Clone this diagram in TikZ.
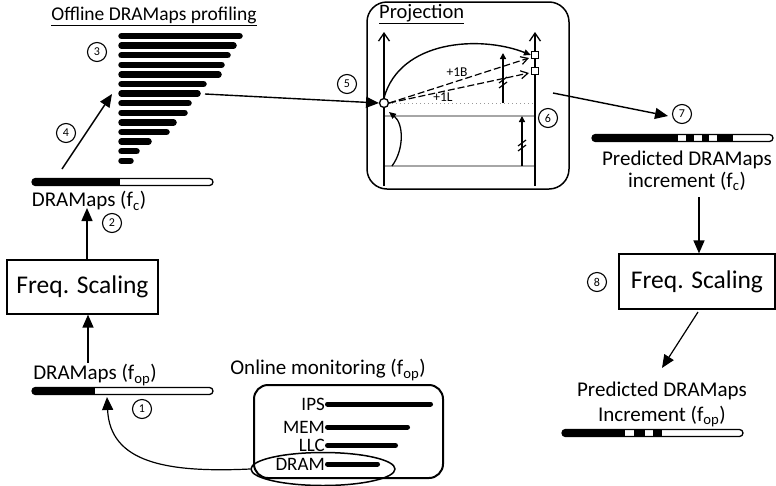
\documentclass[tikz,border=0pt]{standalone}
\usepackage{fontspec}
\setmainfont{Carlito}
\usetikzlibrary{arrows.meta,shapes.geometric}

\begin{document}
\begin{tikzpicture}[x=1pt,y=-1pt,
  lbl/.style={inner sep=0pt, align=center, font=\fontsize{21}{22}\selectfont},
  ttl/.style={inner sep=0pt, font=\fontsize{19.5}{22}\selectfont},
  mon/.style={inner sep=0pt, anchor=east, font=\fontsize{19}{20}\selectfont},
  num/.style={circle, draw, line width=1.1pt, minimum size=19pt, inner sep=0pt, font=\fontsize{12}{12}\selectfont},
  fsbox/.style={rectangle, draw, line width=1.2pt, inner sep=0pt, font=\fontsize{25.5}{26}\selectfont},
  arr/.style={line width=1.4pt, -{Triangle[length=13pt,width=11pt]}},
  profbar/.style={line width=6.5pt, line cap=round},
  monbar/.style={line width=5pt, line cap=round},
  barline/.style={line width=1.3pt, rounded corners=3.5pt},
  axis/.style={line width=1.4pt, -{Straight Barb[length=8pt,width=11pt,line width=1.3pt]}},
  proj/.style={line width=1.2pt, dash pattern=on 7pt off 3pt, -{Straight Barb[length=7pt,width=8pt]}},
  smallarr/.style={line width=1.4pt, -{Triangle[length=6pt,width=6pt]}},
  grayline/.style={line width=1.8pt, gray!70},
  brk/.style={line width=1.2pt}
]
\useasboundingbox (0,0) rectangle (776,485);

% ---------------- offline profiling ----------------
\node[ttl] (offt) at (154,16) {\underline{Offline DRAMaps profiling}};
\node[num] (n3) at (97,52) {3};
\foreach \r [count=\i from 0] in {243,237,231,225,222,207,201,192,188,177,170,152,140,134}
  \draw[profbar] (121.5,{36+9.6*\i}) -- ({\r-3.5},{36+9.6*\i});
\coordinate (prow) at (205,94);

% DRAMaps (f_c) bar
\begin{scope}
  \clip[rounded corners=3.5pt] (32,178.5) rectangle (213,185.5);
  \fill (32,178.5) rectangle (120,185.5);
\end{scope}
\draw[barline] (32,178.5) rectangle (213,185.5);
\coordinate (fcbar) at (62,169);
\coordinate (proftip) at (112,94);
\node[num] (n4) at (66,133) {4};
\draw[arr] (fcbar) -- (proftip);

\node[lbl] (lfc) at (89,201) {DRAMaps (f\textsubscript{c})};
\node[num] (n2) at (112,223) {2};

% left frequency scaling
\node[fsbox, minimum width=151pt, minimum height=54pt] (fs1) at (82.5,287) {Freq. Scaling};
\coordinate (lfcb) at (87,208);
\draw[arr] (fs1.north -| lfcb) -- (lfcb);

% DRAMaps (f_op)
\node[lbl] (lop) at (95,375) {DRAMaps (f\textsubscript{op})};
\coordinate (lopt) at (88,363);
\draw[arr] (lopt) -- (lopt |- fs1.south);
\begin{scope}
  \clip[rounded corners=3.5pt] (32,387.5) rectangle (213,394.5);
  \fill (32,387.5) rectangle (95,394.5);
\end{scope}
\draw[barline] (32,387.5) rectangle (213,394.5);
\coordinate (opbar) at (107,397);
\node[num] (n1) at (142,409) {1};

% ---------------- online monitoring ----------------
\node[lbl] (onl) at (328,370) {Online monitoring (f\textsubscript{op})};
\draw[line width=2pt, rounded corners=14pt] (254,385) rectangle (443,478);
\node[mon] (ips) at (325,404) {IPS};
\node[mon] (mem) at (325,427) {MEM};
\node[mon] (llc) at (325,445.5) {LLC};
\node[mon] (dram) at (325,464) {DRAM};
\draw[monbar] (ips.east) ++(2.5,0) -- (430.5,404);
\draw[monbar] (mem.east) ++(2.5,0) -- (407.5,427);
\draw[monbar] (llc.east) ++(2.5,0) -- (395.5,445.5);
\draw[monbar] (dram.east) ++(2.5,0) -- (377.5,464);
\node[ellipse, draw, line width=1.5pt, minimum width=144pt, minimum height=33pt, inner sep=0pt] (dsel) at (323,469) {};
\draw[line width=1.2pt, -{Triangle[length=13pt,width=11pt]}]
  (dsel.west) .. controls (165,473) and (110,462) .. (opbar);

% ---------------- projection ----------------
\draw[line width=1.5pt, rounded corners=20pt] (367,2) rectangle (569,189);
\node[inner sep=0pt, anchor=west, font=\fontsize{20.5}{22}\selectfont] (projt) at (379,14) {\underline{Projection}};

\coordinate (lb) at (384,186);
\coordinate (lt) at (384,32);
\coordinate (rb) at (535,186);
\coordinate (rt) at (535,32);

\draw[grayline] (384,116) -- (535,116);
\draw[grayline] (384,166) -- (535,166);
\draw[line width=1pt, gray!80, dash pattern=on 1pt off 3pt] (388,103) -- (535,103);

\draw[axis] (lb) -- (lt);
\draw[axis] (rb) -- (rt);

\node[circle, draw, fill=white, line width=1.3pt, minimum size=9pt, inner sep=0pt] (pt) at (384,103) {};
\node[rectangle, draw, fill=white, line width=1.2pt, minimum size=7pt, inner sep=0pt] (sqa) at (535,55) {};
\node[rectangle, draw, fill=white, line width=1.2pt, minimum size=7pt, inner sep=0pt] (sqb) at (535,71) {};

% jump to the upper value
\draw[line width=1.4pt, -{Triangle[length=7pt,width=6pt]}]
  (pt.north) .. controls (400,40) and (480,35) .. (sqa.west);
% +1B and +1L increments
\draw[proj] (pt.east) -- (529,58);
\draw[proj] (pt.east) -- (529,73);
\node[inner sep=0pt, font=\fontsize{13.5}{14}\selectfont] (pb) at (457,72) {+1B};
\node[inner sep=0pt, font=\fontsize{13.5}{14}\selectfont] (pl) at (443,97) {+1L};

% rise from the lower level
\coordinate (cvs) at (392,166);
\coordinate (cve) at (389,112);
\draw[line width=1.3pt, -{Triangle[length=7pt,width=6pt]}]
  (cvs) .. controls (404,150) and (404,124) .. (cve);

% step arrows with break marks
\coordinate (s1b) at (503,103);
\coordinate (s1t) at (503,53);
\draw[smallarr] (s1b) -- (s1t);
\draw[brk] (499,83) -- (507,77);
\draw[brk] (499,88) -- (507,82);
\coordinate (s2b) at (522,166);
\coordinate (s2t) at (522,116);
\draw[smallarr] (s2b) -- (s2t);
\draw[brk] (518,146) -- (526,140);
\draw[brk] (518,151) -- (526,145);

\node[num] (n6) at (548,118) {6};
\node[num] (n5) at (347,84) {5};
\coordinate (ptin) at (379,103);
\draw[arr] (prow) -- (ptin);

% ---------------- predicted increment (f_c) ----------------
\coordinate (pout) at (553,93);
\coordinate (p7) at (668,116);
\draw[arr] (pout) -- (p7);
\node[num] (n7) at (682,114) {7};
\begin{scope}
  \clip[rounded corners=3.5pt] (592,134.5) rectangle (773,141.5);
  \fill (592,134.5) rectangle (678,141.5);
  \fill (686,134.5) rectangle (694,141.5);
  \fill (702,134.5) rectangle (709,141.5);
  \fill (717,134.5) rectangle (733,141.5);
\end{scope}
\draw[barline] (592,134.5) rectangle (773,141.5);
\node[lbl] (pfc) at (687,171) {Predicted DRAMaps\\increment (f\textsubscript{c})};

% right frequency scaling
\node[fsbox, minimum width=156pt, minimum height=55pt] (fs2) at (697,281.5) {Freq. Scaling};
\node[num] (n8) at (597,282) {8};
\coordinate (pfcb) at (699,197);
\draw[arr] (pfcb) -- (pfcb |- fs2.north);
\coordinate (fs2b) at (698,312);
\coordinate (pop) at (662,368);
\draw[line width=1.2pt, -{Triangle[length=13pt,width=11pt]}] (fs2b) -- (pop);

% ---------------- predicted increment (f_op) ----------------
\node[lbl, font=\fontsize{21}{25}\selectfont] (pfop) at (662,404) {Predicted DRAMaps\\Increment (f\textsubscript{op})};
\begin{scope}
  \clip[rounded corners=3.5pt] (562,429.5) rectangle (743,436.5);
  \fill (562,429.5) rectangle (625,436.5);
  \fill (634,429.5) rectangle (645,436.5);
  \fill (653,429.5) rectangle (662,436.5);
\end{scope}
\draw[barline] (562,429.5) rectangle (743,436.5);
\end{tikzpicture}
\end{document}
